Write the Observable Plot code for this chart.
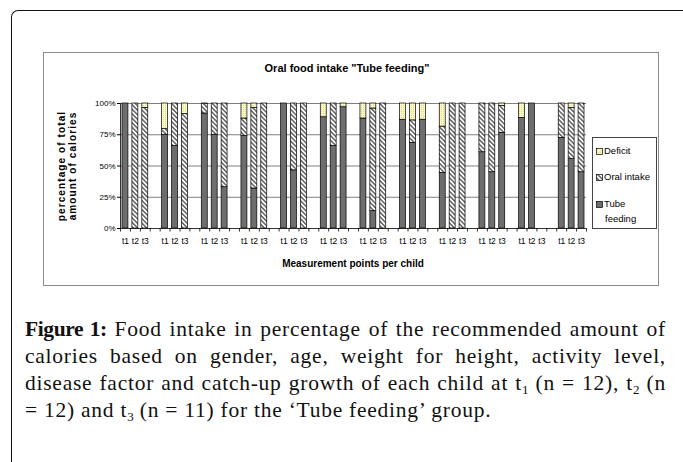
<!DOCTYPE html>
<html><head><meta charset="utf-8">
<script src="https://cdn.jsdelivr.net/npm/d3@7"></script>
<script src="https://cdn.jsdelivr.net/npm/@observablehq/plot@0.6"></script>
<style>
body{margin:0;background:#fff;}
#page{position:relative;width:683px;height:462px;overflow:hidden;background:#fff;}
#outer{position:absolute;left:11px;top:10px;width:700px;height:500px;border-left:1.5px solid #111;border-top:1.5px solid #111;border-top-left-radius:7px;}
#frame{position:absolute;left:43px;top:52px;width:614px;height:232px;border:1px solid #8c8c8c;}
#chart{position:absolute;left:43px;top:53px;}
.ct{position:absolute;font-family:"Liberation Sans",Arial,sans-serif;font-weight:bold;color:#000;white-space:nowrap;}
#title{left:197px;width:300px;top:62px;text-align:center;font-size:11px;}
#xtitle{left:203px;width:300px;top:258px;text-align:center;font-size:10px;}
#ylab{left:67px;top:166px;font-size:10px;letter-spacing:1.1px;line-height:11px;text-align:center;transform:translate(-50%,-50%) rotate(-90deg);}
#legend{position:absolute;left:592px;top:137px;width:63px;height:90px;border:1px solid #444;font-family:"Liberation Sans",Arial,sans-serif;font-size:9.5px;color:#000;}
.li{position:absolute;left:3px;white-space:nowrap;}
.li svg{vertical-align:-1px;margin-right:1px;}
#caption{position:absolute;left:25px;top:316px;width:641px;font-family:"Liberation Serif","DejaVu Serif",serif;font-size:21.5px;line-height:27px;color:#111;letter-spacing:0.75px;}
#caption b{letter-spacing:-0.4px;}
.jl{text-align:justify;text-align-last:justify;}
sub{font-size:13px;vertical-align:-4px;line-height:0;letter-spacing:0;}
</style></head>
<body><div id="page">
<div id="outer"></div>
<div id="frame"></div>
<div id="chart"></div>
<div class="ct" id="title">Oral food intake "Tube feeding"</div>
<div class="ct" id="ylab">percentage of total<br>amount of calories</div>
<div class="ct" id="xtitle">Measurement points per child</div>
<div id="legend"></div>
<div id="caption">
<div class="jl"><b>Figure 1:</b> Food intake in percentage of the recommended amount of</div>
<div class="jl">calories based on gender, age, weight for height, activity level,</div>
<div class="jl">disease factor and catch-up growth of each child at t<sub>1</sub> (n = 12), t<sub>2</sub> (n</div>
<div>= 12) and t<sub>3</sub> (n = 11) for the ‘Tube feeding’ group.</div>
</div>
</div>
<script>
const children = [1,2,3,4,5,6,7,8,9,10,11,12];
const times = ["t1","t2","t3"];
const series = ["Tube feeding","Oral intake","Deficit"];
const tube    = [[100,0,0],[75,66,0],[92,75,33],[74,32,0],[100,46.5,0],[89,66,97],[88,14,0],[87,68.5,87],[44.5,0,0],[61,45,76.5],[88.5,100,null],[72.5,55.5,45]];
const oral    = [[0,100,96.5],[4.5,34,91.5],[7.5,25,67],[14,64.5,100],[0,53.5,100],[0,34,0],[0,82,100],[0,18,0],[37,100,100],[39,55,21.5],[0,0,null],[27.5,41,55]];
const deficit = [[0,0,3.5],[20.5,0,8.5],[0.5,0,0],[12,3.5,0],[0,0,0],[11,0,3],[12,4,0],[13,13.5,13],[18.5,0,0],[0,0,2],[11.5,0,null],[0,3.5,0]];
const yTicks = [0,25,50,75,100];

const keys = [];
const labelOf = {};
children.forEach((c,i) => {
  times.forEach(t => { const k = "c"+c+"-"+t; keys.push(k); labelOf[k] = t; });
  if (i < children.length-1) { const k = "c"+c+"-gap"; keys.push(k); labelOf[k] = ""; }
});
const rows = [];
const sets = [tube, oral, deficit];
children.forEach((c,i) => times.forEach((t,j) => series.forEach((s,si) => {
  const v = sets[si][i][j];
  if (v != null && v > 0) rows.push({key:"c"+c+"-"+t, series:s, value:v});
})));

const W = 615, H = 232, mL = 77, mR = 72, mT = 50, mB = 57;
const step = (W - mL - mR) / keys.length;
const fills = ["#6e6e6e","url(#hatch)","url(#dots)"];

const chart = Plot.plot({
  width: W, height: H, marginLeft: mL, marginRight: mR, marginTop: mT, marginBottom: mB,
  style: {fontFamily: "Liberation Sans, Arial, sans-serif", fontSize: "8px", color: "#000", background: "transparent", overflow: "visible"},
  x: {domain: keys, paddingInner: 0.4, paddingOuter: 0.2, align: 0.5, label: null},
  y: {domain: [0,100], label: null},
  color: {domain: series, range: fills},
  marks: [
    Plot.gridY([25,50,75,100], {stroke: "#808080", strokeOpacity: 1, strokeWidth: 1}),
    Plot.barY(rows, Plot.stackY({order: series, x: "key", y: "value", fill: "series", stroke: "#000", strokeWidth: 0.7})),
    Plot.ruleY([0], {stroke: "#000", strokeWidth: 0.8}),
    Plot.ruleX([keys[0]], {dx: -step/2, y1: 0, y2: 100, stroke: "#000", strokeWidth: 0.8}),
    Plot.ruleX(keys, {x: d => d, dx: step/2, y1: 0, y2: -2.8, stroke: "#000", strokeWidth: 0.8}),
    Plot.ruleX([keys[0]], {dx: -step/2, y1: 0, y2: -2.8, stroke: "#000", strokeWidth: 0.8}),
    Plot.axisY({ticks: yTicks, tickFormat: d => d + "%", tickSize: 3, tickPadding: 2, fontSize: 8, label: null}),
    Plot.axisX({tickSize: 0, tickPadding: 9, tickFormat: k => labelOf[k], fontSize: 8.5, label: null})
  ]
});

const defs = `<defs>
<pattern id="hatch" patternUnits="userSpaceOnUse" width="3.2" height="3.2" patternTransform="rotate(-45)">
<rect width="3.2" height="3.2" fill="#fff"/><line x1="0.8" y1="0" x2="0.8" y2="3.2" stroke="#3a3a3a" stroke-width="1.2"/></pattern>
<pattern id="dots" patternUnits="userSpaceOnUse" width="2" height="2">
<rect width="2" height="2" fill="#fbf9c2"/><rect x="0" y="0" width="0.8" height="0.8" fill="#c9c68a"/></pattern>
</defs>`;
chart.insertAdjacentHTML("afterbegin", defs);
document.getElementById("chart").appendChild(chart);

const legendItems = [
  {label: "Deficit", fill: fills[2], top: 5},
  {label: "Oral intake", fill: fills[1], top: 31},
  {label: "Tube<br><span style='padding-left:9px'>feeding</span>", fill: fills[0], top: 58}
];
const lg = document.getElementById("legend");
legendItems.forEach(it => {
  const d = document.createElement("div");
  d.className = "li";
  d.style.top = it.top + "px";
  d.style.lineHeight = "15px";
  d.innerHTML = `<svg width="7" height="7"><rect x="0.5" y="0.5" width="6" height="6" fill="${it.fill}" stroke="#000" stroke-width="0.7"/></svg>${it.label}`;
  lg.appendChild(d);
});
</script>
</body></html>
